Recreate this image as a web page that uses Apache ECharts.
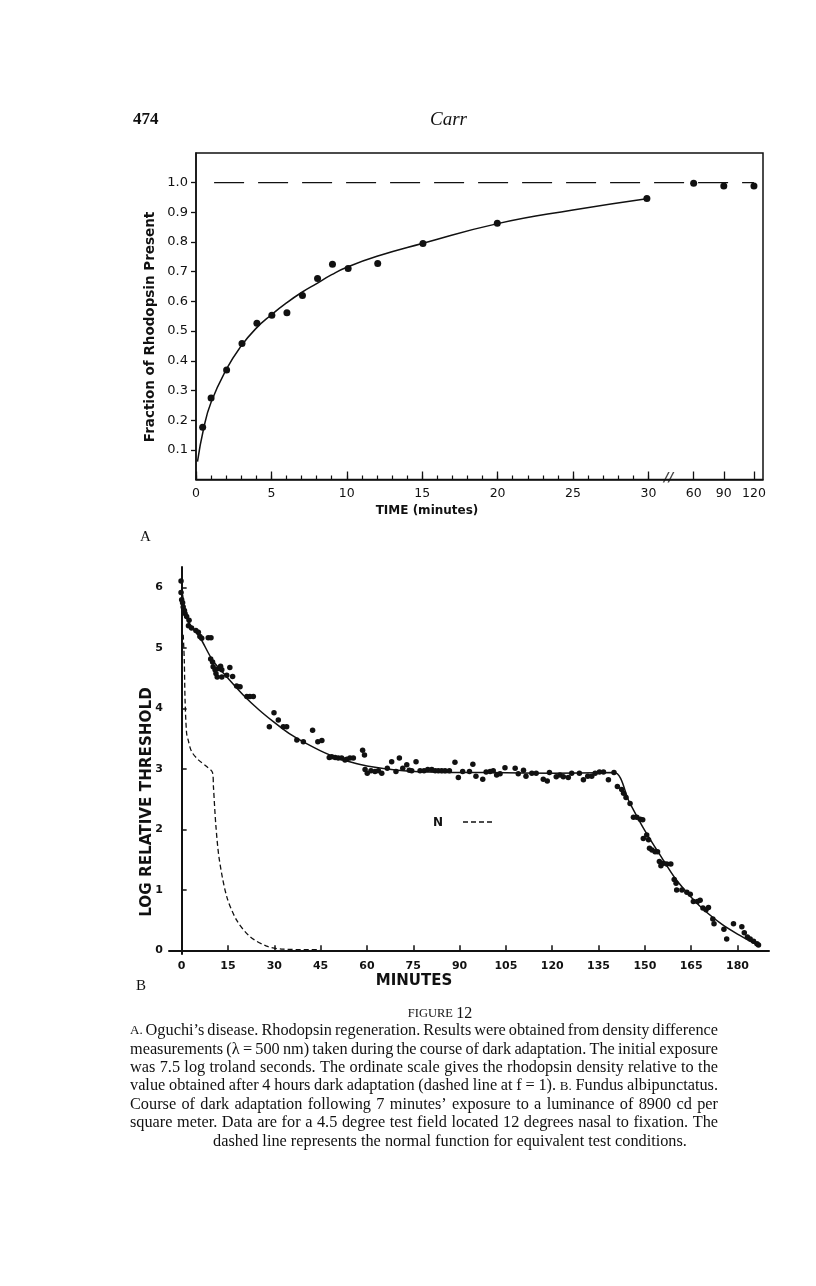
<!DOCTYPE html>
<html><head><meta charset="utf-8">
<script src="https://cdn.jsdelivr.net/npm/echarts@6/dist/echarts.min.js"></script>
<style>html,body{margin:0;padding:0;background:#fff}#c{width:816px;height:1286px}</style>
</head><body><div id="c"></div>
<script>
// ---------- Panel A : rhodopsin regeneration ----------
const aTime = [0.44,1.0,2.03,3.05,4.04,5.03,6.03,7.06,8.06,9.05,10.09,12.05,15.05,19.98,29.9,60,90,120];
const aFrac = [0.176,0.275,0.369,0.458,0.526,0.553,0.562,0.62,0.677,0.725,0.711,0.728,0.795,0.863,0.947,0.998,0.989,0.989];
const aFitTime = [0.1,0.5,1,2,3,4,5,6,7,8,9,10,12,15,20,25,30];
const aFitFrac = [0.06,0.17,0.26,0.37,0.45,0.51,0.555,0.595,0.63,0.66,0.69,0.715,0.752,0.795,0.862,0.908,0.947];
const aRefTime = [1.2,120];
const aRefFrac = [1.0,1.0];
const aTickTimes = [0,5,10,15,20,25,30,60,90,120];
const aMinorTimes = [0,1,2,3,4,5,6,7,8,9,10,11,12,13,14,15,16,17,18,19,20,21,22,23,24,25,26,27,28,29,30];
const aYTicks = [0.1,0.2,0.3,0.4,0.5,0.6,0.7,0.8,0.9,1.0];

// ---------- Panel B : dark adaptation, fundus albipunctatus ----------
const bTime = [-0.2,-0.2,0,0.3,0.5,0.9,1.1,1.6,2.4,2.2,3.2,4.6,5.4,5.9,6.5,8.6,9.5,
 9.4,10.0,10.2,10.8,11.1,11.9,12.6,13.0,11.5,13.0,14.6,15.6,16.5,17.8,18.9,21.1,22.1,23.2,
 28.4,29.9,31.3,32.9,34.0,37.3,39.4,42.4,44.1,45.4,47.8,48.6,49.7,50.7,51.8,52.9,53.5,54.5,55.6,
 58.6,59.2,59.4,60.1,61.3,62.6,63.7,64.8,66.6,68.0,69.4,70.5,71.6,72.9,73.7,74.5,75.9,77.2,78.5,
 79.7,81.0,82.1,83.1,84.2,85.3,86.7,88.5,89.6,91.0,93.2,94.3,95.3,97.5,98.6,99.9,100.9,102.0,103.1,
 104.7,108.0,109.0,110.7,111.5,113.4,114.8,117.1,118.4,119.1,121.3,122.5,123.6,125.2,126.3,128.8,
 130.1,131.5,132.8,133.9,135.3,136.6,138.2,140.0,
 141.1,142.5,143.1,143.9,145.2,146.3,147.4,148.5,149.3,149.5,150.6,151.2,151.5,152.3,153.3,154.1,
 154.7,155.2,156.0,157.1,158.4,159.5,160.1,160.3,162.0,163.6,164.7,165.7,167.0,167.9,168.8,169.8,
 170.6,172.0,172.4,175.6,176.5,178.7,181.4,182.2,183.2,184.1,185.2,186.3,186.8];
const bThresh = [6.11,5.92,5.80,5.75,5.68,5.62,5.57,5.52,5.46,5.37,5.33,5.29,5.26,5.19,5.16,5.17,5.17,
 4.82,4.77,4.69,4.64,4.58,4.66,4.70,4.64,4.52,4.52,4.55,4.68,4.53,4.37,4.36,4.20,4.20,4.20,
 3.70,3.93,3.81,3.70,3.70,3.48,3.45,3.64,3.45,3.47,3.19,3.20,3.19,3.18,3.18,3.15,3.16,3.18,3.18,
 3.31,3.23,2.99,2.93,2.97,2.96,2.97,2.93,3.01,3.12,2.96,3.18,3.01,3.07,2.98,2.97,3.12,2.97,2.97,
 2.99,2.99,2.97,2.97,2.97,2.97,2.97,3.11,2.86,2.96,2.96,3.08,2.88,2.83,2.95,2.96,2.97,2.90,2.92,
 3.02,3.01,2.92,2.98,2.88,2.93,2.93,2.83,2.80,2.94,2.87,2.90,2.87,2.86,2.93,2.93,
 2.82,2.88,2.88,2.93,2.95,2.95,2.82,2.94,
 2.71,2.66,2.60,2.53,2.43,2.20,2.20,2.17,2.16,1.85,1.91,1.83,1.69,1.66,1.63,1.63,
 1.47,1.40,1.44,1.43,1.43,1.17,1.11,1.00,1.00,0.96,0.93,0.81,0.81,0.83,0.70,0.67,
 0.71,0.52,0.44,0.35,0.19,0.44,0.39,0.29,0.22,0.19,0.15,0.11,0.09];
const bFitTime = [0.3,1,2,4,6,10,15,20,25,30,35,40,45,50,55,60,70,80,90,100,120,140,145,150,155,160,165,170,175,180,186];
const bFitThresh = [5.88,5.62,5.45,5.30,5.17,4.80,4.50,4.22,3.98,3.77,3.58,3.43,3.30,3.19,3.11,3.05,2.98,2.95,2.94,2.94,2.93,2.94,2.45,1.98,1.57,1.18,0.88,0.63,0.43,0.27,0.10];
const bNormTime = [0.5,0.85,1.1,1.6,2.1,3.2,5.4,8.1,10.0,10.3,11.1,12.2,14.6,17.8,22.1,27.5,32.9,44.8];
const bNormThresh = [5.22,4.80,4.14,3.59,3.48,3.29,3.15,3.04,2.94,2.70,2.05,1.50,0.89,0.50,0.23,0.07,0.02,0.01];
const bXTicks = [0,15,30,45,60,75,90,105,120,135,150,165,180];
const bYTicks = [0,1,2,3,4,5,6];

const captionLines = [
 "A. Oguchi\u2019s disease. Rhodopsin regeneration. Results were obtained from density difference",
 "measurements (\u03bb = 500 nm) taken during the course of dark adaptation. The initial exposure",
 "was 7.5 log troland seconds. The ordinate scale gives the rhodopsin density relative to the",
 "value obtained after 4 hours dark adaptation (dashed line at f = 1). B. Fundus albipunctatus.",
 "Course of dark adaptation following 7 minutes\u2019 exposure to a luminance of 8900 cd per",
 "square meter. Data are for a 4.5 degree test field located 12 degrees nasal to fixation. The",
 "dashed line represents the normal function for equivalent test conditions."
];

// broken time axis for panel A: 0-30 linear, then 60/90/120 compressed after the break
function brk(t){ return t <= 30 ? t : 33 + (t - 60) / 15; }
function unbrk(v){ return v <= 30.5 ? v : 60 + (v - 33) * 15; }
const zip = (xs, ys, f) => xs.map((x, i) => [f ? f(x) : x, ys[i]]);

const chart = echarts.init(document.getElementById('c'), null, {renderer:'canvas'});
const sans = '"DejaVu Sans", sans-serif';
const serif = '"Liberation Serif", "DejaVu Serif", serif';
const INK = '#111';
const mid = {textVerticalAlign:'middle', verticalAlign:'middle'};
const ctr = {textAlign:'center', align:'center', textVerticalAlign:'middle', verticalAlign:'middle'};

const graphics = [
  {type:'text', x:133, y:120, style:Object.assign({text:'474', font:'bold 17px '+serif, fill:INK}, mid)},
  {type:'text', x:430, y:120, style:Object.assign({text:'Carr', font:'italic 19px '+serif, fill:INK}, mid)},
  {type:'text', x:140, y:537, style:Object.assign({text:'A', font:'15px '+serif, fill:INK}, mid)},
  {type:'text', x:136, y:986, style:Object.assign({text:'B', font:'15px '+serif, fill:INK}, mid)},
  {type:'text', x:150, y:327, rotation:Math.PI/2, style:Object.assign({text:'Fraction of Rhodopsin Present', font:'bold 13.5px '+sans, fill:INK}, ctr)},
  {type:'text', x:427, y:511, style:Object.assign({text:'TIME (minutes)', font:'bold 12px '+sans, fill:INK}, ctr)},
  {type:'text', x:147, y:802, rotation:Math.PI/2, style:Object.assign({text:'LOG RELATIVE THRESHOLD', font:'bold 15.2px '+sans, fill:INK}, ctr)},
  {type:'text', x:414, y:981, style:Object.assign({text:'MINUTES', font:'bold 15px '+sans, fill:INK}, ctr)},
  {type:'text', x:440, y:1014, style:Object.assign({text:'{s|FIGURE} {n|12}', fill:INK,
     rich:{s:{font:'12.5px '+serif, fill:INK, fontSize:12.5, fontFamily:serif}, n:{font:'16px '+serif, fill:INK, fontSize:16, fontFamily:serif}}}, ctr)},
  // key for the normal-function curve
  {type:'text', x:438, y:823, style:Object.assign({text:'N', font:'bold 12px '+sans, fill:INK}, ctr)},
  {type:'line', shape:{x1:463, y1:822, x2:494, y2:822}, style:{stroke:INK, lineWidth:1.3, lineDash:[5,3]}}
];

// justified caption
const capSize = 16.3;
const capFont = capSize + 'px ' + serif;
const scFont = (capSize * 0.8) + 'px ' + serif;   // small caps for panel letters
const mctx = document.createElement('canvas').getContext('2d');
const widthOf = (w, f) => { mctx.font = f; return mctx.measureText(w).width; };
const fontFor = w => (/^[AB]\.$/.test(w) ? scFont : capFont);
captionLines.forEach((ln, i) => {
  const y = 1031 + i * 18.4;
  const words = ln.split(' ');
  const widths = words.map(w => widthOf(w, fontFor(w)));
  const total = widths.reduce((a, b) => a + b, 0);
  let x, gap;
  if (i === captionLines.length - 1) {
    gap = widthOf(' ', capFont);
    const full = total + gap * (words.length - 1);
    x = 450 - full / 2;
  } else {
    gap = (718 - 130 - total) / (words.length - 1);
    x = 130;
  }
  words.forEach((w, k) => {
    graphics.push({type:'text', x:x, y:y, style:Object.assign({text:w, font:fontFor(w), fill:INK}, mid)});
    x += widths[k] + gap;
  });
});

const option = {
  backgroundColor:'#fff',
  animation:false,
  grid:[
    {left:196, right:53, top:153, bottom:806.5, show:true, borderColor:INK, borderWidth:1.5, backgroundColor:'transparent'},
    {left:169, right:47, top:567, bottom:332}
  ],
  xAxis:[
    {gridIndex:0, type:'value', position:'bottom', min:0, max:37.6,
     axisLine:{show:true, lineStyle:{color:INK, width:1.5}},
     axisTick:{show:true, inside:true, length:8, customValues:aTickTimes.map(brk), lineStyle:{color:INK, width:1.3}},
     axisLabel:{show:true, customValues:aTickTimes.map(brk), formatter:v => String(Math.round(unbrk(v))), color:INK, fontSize:12.5, fontFamily:sans, margin:8},
     splitLine:{show:false}},
    {gridIndex:0, type:'value', position:'bottom', min:0, max:37.6,
     axisLine:{show:false},
     axisTick:{show:true, inside:true, length:4, customValues:aMinorTimes, lineStyle:{color:INK, width:1.2}},
     axisLabel:{show:false}, splitLine:{show:false}},
    {gridIndex:1, type:'value', min:-4.1, max:190.2,
     axisLine:{show:true, lineStyle:{color:INK, width:2}},
     axisTick:{show:true, inside:true, length:5, customValues:bXTicks, lineStyle:{color:INK, width:1.5}},
     axisLabel:{show:true, customValues:bXTicks, color:INK, fontSize:11, fontWeight:'bold', fontFamily:sans, margin:7},
     splitLine:{show:false}}
  ],
  yAxis:[
    {gridIndex:0, type:'value', min:0, max:1.1,
     axisLine:{show:true, lineStyle:{color:INK, width:1.5}},
     axisTick:{show:true, inside:false, length:5, customValues:aYTicks, lineStyle:{color:INK, width:1.3}},
     axisLabel:{show:true, customValues:aYTicks, formatter:v => v.toFixed(1), color:INK, fontSize:13, fontFamily:sans, margin:8},
     splitLine:{show:false}},
    {gridIndex:1, type:'value', min:-0.06, max:6.34,
     axisLine:{show:true, lineStyle:{color:INK, width:2}},
     axisTick:{show:true, inside:true, length:5, customValues:bYTicks, lineStyle:{color:INK, width:1.5}},
     axisLabel:{show:true, customValues:bYTicks, color:INK, fontSize:11, fontWeight:'bold', fontFamily:sans, margin:6},
     splitLine:{show:false}}
  ],
  series:[
    {type:'line', name:'A fit', xAxisIndex:0, yAxisIndex:0, data:zip(aFitTime, aFitFrac), smooth:true, symbol:'none',
     lineStyle:{color:INK, width:1.5}, silent:true},
    {type:'line', name:'A ref', xAxisIndex:0, yAxisIndex:0, data:zip(aRefTime, aRefFrac, brk), symbol:'none',
     lineStyle:{color:INK, width:1.2, type:[30,14]}, silent:true},
    {type:'scatter', name:'A data', xAxisIndex:0, yAxisIndex:0, data:zip(aTime, aFrac, brk), symbol:'circle', symbolSize:7,
     itemStyle:{color:INK, opacity:1}, silent:true},
    {type:'scatter', name:'A break', xAxisIndex:0, yAxisIndex:0, data:[[31.35, 0.005]], symbol:'circle', symbolSize:1, clip:false,
     itemStyle:{color:'rgba(0,0,0,0)'},
     label:{show:true, formatter:'//', position:'inside', fontSize:13, fontStyle:'italic', fontWeight:'bold', color:INK, fontFamily:sans}, silent:true},
    {type:'line', name:'B fit', xAxisIndex:2, yAxisIndex:1, data:zip(bFitTime, bFitThresh), smooth:0.3, symbol:'none',
     lineStyle:{color:INK, width:1.5}, silent:true},
    {type:'line', name:'N', xAxisIndex:2, yAxisIndex:1, data:zip(bNormTime, bNormThresh), smooth:0.3, symbol:'none',
     lineStyle:{color:INK, width:1.3, type:[5,3]}, silent:true},
    {type:'scatter', name:'B data', xAxisIndex:2, yAxisIndex:1, data:zip(bTime, bThresh), symbol:'circle', symbolSize:5.5,
     itemStyle:{color:INK, opacity:1}, silent:true}
  ],
  graphic: graphics
};
chart.setOption(option);
</script></body></html>
